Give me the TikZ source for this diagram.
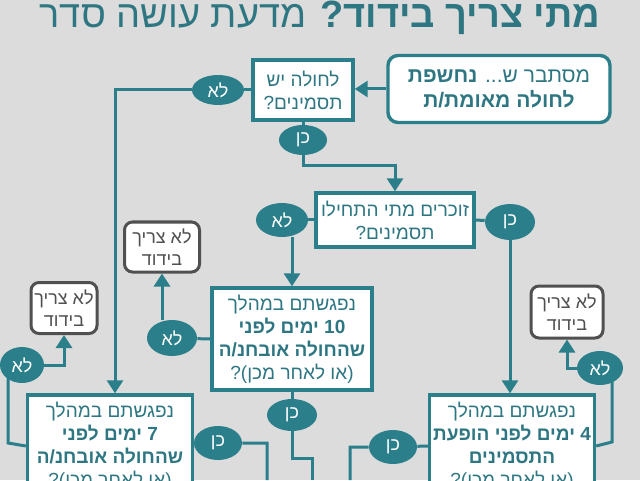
\documentclass[tikz,border=0pt]{standalone}
\usepackage{fontspec}
\newfontfamily\hebfont[Script=Hebrew]{Liberation Sans}
\TeXXeTstate=1
\usetikzlibrary{arrows.meta,shapes.geometric,backgrounds}
\definecolor{mdteal}{HTML}{2B7F8B}
\definecolor{mdtext}{HTML}{2E7782}
\definecolor{mdgray}{HTML}{505050}
\definecolor{mdbg}{HTML}{DCDCDC}
\newcommand{\heb}[1]{\beginR #1\endR}
\begin{document}
\begin{tikzpicture}[x=0.5pt, y=-0.5pt,
    qbox/.style={draw=mdteal, line width=1.7pt, fill=white, text=mdtext, align=center, inner sep=1pt,
        font=\hebfont\fontsize{9.5pt}{11.5pt}\selectfont},
    startbox/.style={qbox, rounded corners=5pt, font=\hebfont\fontsize{10.5pt}{12.5pt}\selectfont},
    nobox/.style={draw=mdgray, line width=1.5pt, fill=white, text=mdgray, align=center, rounded corners=4pt,
        inner sep=1pt, font=\hebfont\fontsize{9pt}{11pt}\selectfont},
    answer/.style={ellipse, fill=mdteal, text=white, inner sep=0pt, font=\hebfont\fontsize{9pt}{11pt}\selectfont},
    flow/.style={draw=mdteal, line width=1.5pt},
    arrow/.style={flow, -{Triangle[width=8pt,length=6.5pt]}}]
    \useasboundingbox (0,0) rectangle (640,480);
    \node[anchor=base, text=mdtext, font=\hebfont\fontsize{19pt}{22pt}\selectfont] (title) at (320,28)
        {\heb{\textbf{מתי צריך בידוד?} מדעת עושה סדר}};
    % questions
    \node[startbox, minimum width=111pt, minimum height=33.5pt] (start) at (499,89)
        {\heb{מסתבר ש... \textbf{נחשפת}}\\\heb{\textbf{לחולה מאומת/ת}}};
    \node[qbox, minimum width=50pt, minimum height=30pt] (q1) at (303,90)
        {\heb{לחולה יש}\\\heb{תסמינים?}};
    \node[qbox, minimum width=79pt, minimum height=27pt] (q2) at (395,220)
        {\heb{זוכרים מתי התחילו}\\\heb{תסמינים?}};
    \node[qbox, minimum width=80pt, minimum height=51pt] (q3) at (292,339)
        {\heb{נפגשתם במהלך}\\\heb{\textbf{10 ימים לפני}}\\\heb{\textbf{שהחולה אובחנ/ה}}\\\heb{(או לאחר מכן)?}};
    \node[qbox, minimum width=82.5pt, minimum height=51pt] (q7) at (110,446)
        {\heb{נפגשתם במהלך}\\\heb{\textbf{7 ימים לפני}}\\\heb{\textbf{שהחולה אובחנ/ה}}\\\heb{(או לאחר מכן)?}};
    \node[qbox, minimum width=82.5pt, minimum height=51pt] (q4) at (512,446)
        {\heb{נפגשתם במהלך}\\\heb{\textbf{4 ימים לפני הופעת}}\\\heb{\textbf{התסמינים}}\\\heb{(או לאחר מכן)?}};
    % no isolation
    \node[nobox, minimum width=37.5pt, minimum height=25pt] (nb1) at (162,247) {\heb{לא צריך}\\\heb{בידוד}};
    \node[nobox, minimum width=36pt, minimum height=26pt] (nb2) at (567,312) {\heb{לא צריך}\\\heb{בידוד}};
    \node[nobox, minimum width=33pt, minimum height=25.5pt] (nb3) at (64,308) {\heb{לא צריך}\\\heb{בידוד}};
    % answers
    \node[answer, minimum width=26pt, minimum height=15pt] (q1no) at (218,90) {\heb{לא}};
    \node[answer, minimum width=24pt, minimum height=15pt] (q1yes) at (303,140) {\heb{כן}};
    \node[answer, minimum width=26pt, minimum height=17pt] (q2no) at (282,220) {\heb{לא}};
    \node[answer, minimum width=25pt, minimum height=18pt] (q2yes) at (510,222) {\heb{כן}};
    \node[answer, minimum width=25pt, minimum height=18pt] (q3no) at (172,338) {\heb{לא}};
    \node[answer, minimum width=25pt, minimum height=16pt] (q3yes) at (292,415) {\heb{כן}};
    \node[answer, minimum width=22pt, minimum height=18pt] (q7no) at (22,365) {\heb{לא}};
    \node[answer, minimum width=24pt, minimum height=17pt] (q7yes) at (218,443) {\heb{כן}};
    \node[answer, minimum width=23pt, minimum height=17pt] (q4no) at (600,368) {\heb{לא}};
    \node[answer, minimum width=24pt, minimum height=17pt] (q4yes) at (393,447) {\heb{כן}};
    \coordinate (k1) at (115,90);
    \coordinate (k7) at (8,443);
    \coordinate (k4) at (612,442);
    \coordinate (q7end) at (267,480);
    \coordinate (q3end) at (312,480);
    \coordinate (q4end) at (350,480);
    \begin{pgfonlayer}{background}
        \fill[mdbg] (0,0) rectangle (640,480);
        \draw[arrow] (start.west) -- (start.west -| q1.east);
        \draw[flow] (q1.west) -- (q1no);
        \draw[arrow] (q1no) -- (k1) -- (k1 |- q7.north);
        \draw[flow] (q1.south) -- (q1yes);
        \draw[arrow] (q1yes.south) -- ++(0,10) -| (q2.north);
        \draw[flow] (q2.west) -- (q2no);
        \draw[arrow] (q2no.south -| q3.north) -- (q3.north);
        \draw[flow] (q2.east) -- (q2yes);
        \draw[arrow] (q2yes) -- (q2yes |- q4.north);
        \draw[flow] (q3.west) -- (q3no);
        \draw[arrow] (q3no.north -| nb1.south) -- (nb1.south);
        \draw[flow] (q3.south) -- (q3yes);
        \draw[flow] (q3yes) -- ++(0,43) -| (q3end);
        \draw[flow] (q7.west) -- (k7) -- (k7 |- q7no);
        \draw[arrow] (q7no) -| (nb3.south);
        \draw[flow] (q7.east) -- (q7yes) -| (q7end);
        \draw[flow] (q4.east) -- (k4) -- (k4 |- q4no);
        \draw[arrow] (q4no) -| (nb2.south);
        \draw[flow] (q4.west) -- (q4yes) -| (q4end);
    \end{pgfonlayer}
\end{tikzpicture}
\end{document}
